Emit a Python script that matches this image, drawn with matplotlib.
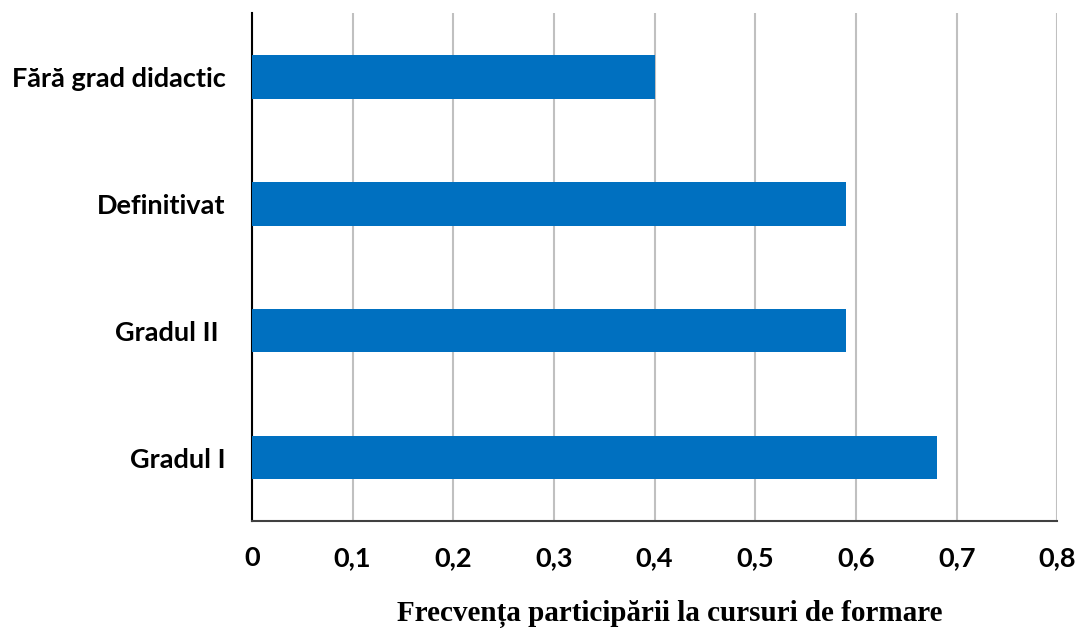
import numpy as np
from matplotlib import pyplot as plt

categories = ["Gradul I", "Gradul II ", "Definitivat", "Fără grad didactic"]
values = [0.68, 0.59, 0.59, 0.40]
xticks = [0, 0.1, 0.2, 0.3, 0.4, 0.5, 0.6, 0.7, 0.8]
xticklabels = ["0", "0,1", "0,2", "0,3", "0,4", "0,5", "0,6", "0,7", "0,8"]

fig = plt.figure(figsize=(10.79, 6.30), dpi=100)
ax = fig.add_axes([0.2335, 0.173, 0.7465, 0.806])

y = np.arange(len(categories))
ax.barh(y, values, height=0.345, color="#0070C0", zorder=3)

ax.set_xlim(0, 0.8)
ax.set_ylim(-0.5, len(categories) - 0.5)
ax.set_xticks(xticks)
ax.set_xticklabels(xticklabels, fontfamily="Lato", fontweight="bold", fontsize=19.5)
ax.set_yticks(y)
ax.set_yticklabels(categories, fontfamily="Lato", fontweight="bold", fontsize=19.5)
ax.tick_params(axis="both", length=0)
ax.tick_params(axis="x", pad=18)
ax.tick_params(axis="y", pad=19)

ax.grid(axis="x", color="#C0C0C0", linewidth=1.5, zorder=0)
for s in ["top", "right"]:
    ax.spines[s].set_visible(False)
ax.spines["left"].set_color("black")
ax.spines["left"].set_linewidth(1.5)
ax.spines["bottom"].set_color("#404040")
ax.spines["bottom"].set_linewidth(1.5)

ax.set_xlabel("Frecvența participării la cursuri de formare", fontfamily="Liberation Serif",
              fontweight="bold", fontsize=21, labelpad=24)
ax.xaxis.set_label_coords(0.519, -0.155)

fig.savefig("out.png")
